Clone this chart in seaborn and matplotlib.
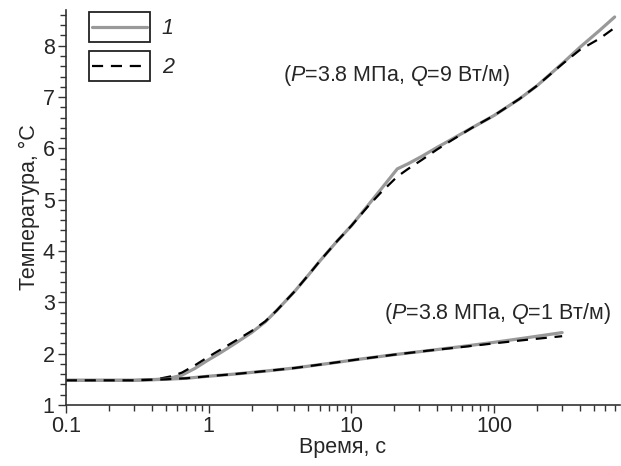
import numpy as np
import pandas as pd
import seaborn as sns
import matplotlib
matplotlib.use("Agg")
import matplotlib.pyplot as plt
from matplotlib.ticker import AutoMinorLocator, FixedLocator, LogLocator, NullFormatter
from matplotlib.patches import Rectangle

# curve for Q=9 W/m
t_q9 = [0.1, 0.3, 0.45, 0.55, 0.65, 0.8, 1.0, 1.2, 1.5, 2.0, 2.5, 3.0, 4.0, 5.0, 6.0, 8.0,
        10, 13, 16, 21, 25, 31, 40, 50, 70, 100, 150, 200, 300, 400, 550, 700]
temp_q9_1 = [1.48, 1.48, 1.50, 1.53, 1.58, 1.71, 1.88, 2.01, 2.18, 2.41, 2.62, 2.84, 3.21, 3.53, 3.80, 4.20,
             4.49, 4.88, 5.19, 5.60, 5.70, 5.84, 6.02, 6.17, 6.40, 6.64, 6.96, 7.22, 7.65, 7.97, 8.30, 8.56]
temp_q9_2 = [1.48, 1.48, 1.51, 1.56, 1.63, 1.77, 1.94, 2.07, 2.23, 2.44, 2.63, 2.84, 3.21, 3.53, 3.80, 4.20,
             4.49, 4.86, 5.13, 5.45, 5.60, 5.77, 5.98, 6.15, 6.40, 6.64, 6.96, 7.22, 7.64, 7.92, 8.14, 8.35]

# curve for Q=1 W/m
t_q1 = [0.1, 0.3, 0.5, 0.7, 1.0, 1.5, 2.5, 4.0, 7.0, 12, 20, 35, 60, 100, 170, 300]
temp_q1_1 = [1.48, 1.48, 1.50, 1.52, 1.56, 1.60, 1.66, 1.72, 1.81, 1.90, 1.98, 2.06, 2.14, 2.22, 2.31, 2.41]
temp_q1_2 = [1.48, 1.48, 1.50, 1.52, 1.56, 1.60, 1.66, 1.72, 1.81, 1.90, 1.98, 2.06, 2.13, 2.20, 2.27, 2.34]

labels = ["1", "2"]

sns.set_style("ticks")
plt.rcParams['font.family'] = ['Liberation Sans', 'DejaVu Sans']
plt.rcParams['mathtext.fontset'] = 'custom'
plt.rcParams['mathtext.it'] = 'Liberation Sans:italic'
plt.rcParams['mathtext.rm'] = 'Liberation Sans'

FS = 15.5

fig = plt.figure(figsize=(6.21, 4.66), dpi=100)
ax = fig.add_axes([0.106, 0.131, 0.892, 0.848])

df1 = pd.DataFrame({"t": t_q9, "T": temp_q9_1})
df2 = pd.DataFrame({"t": t_q9, "T": temp_q9_2})
df3 = pd.DataFrame({"t": t_q1, "T": temp_q1_1})
df4 = pd.DataFrame({"t": t_q1, "T": temp_q1_2})

grey = dict(color="#999999", linewidth=2.3)
dash = dict(color="black", linewidth=1.6, dashes=(5, 3.5))

sns.lineplot(data=df1, x="t", y="T", ax=ax, label=labels[0], **grey)
sns.lineplot(data=df2, x="t", y="T", ax=ax, label=labels[1], **dash)
sns.lineplot(data=df3, x="t", y="T", ax=ax, **grey)
sns.lineplot(data=df4, x="t", y="T", ax=ax, **dash)

ax.set_xscale("log")
ax.set_xlim(0.1, 760)
ax.set_ylim(1, 8.7)
ax.xaxis.set_major_locator(FixedLocator([0.1, 1, 10, 100]))
ax.set_xticklabels(["0.1", "1", "10", "100"])
ax.xaxis.set_minor_locator(LogLocator(base=10, subs=np.arange(2, 10)))
ax.xaxis.set_minor_formatter(NullFormatter())
ax.yaxis.set_major_locator(FixedLocator([1, 2, 3, 4, 5, 6, 7, 8]))
ax.yaxis.set_minor_locator(AutoMinorLocator(5))
ax.tick_params(which="major", direction="out", length=6, width=1, labelsize=FS, color="#333333", pad=2)
ax.tick_params(which="minor", direction="out", length=4, width=1, color="#333333")
for s in ["top", "right"]:
    ax.spines[s].set_visible(False)
for s in ["left", "bottom"]:
    ax.spines[s].set_color("#333333")
    ax.spines[s].set_linewidth(1.2)

ax.set_xlabel("Время, с", fontsize=FS, labelpad=0)
ax.set_ylabel("Температура, °C", fontsize=FS, labelpad=2)

ax.text(3.3, 7.42, "($P$=3.8 МПа, $Q$=9 Вт/м)", fontsize=FS, va="center", ha="left")
ax.text(17, 2.78, "($P$=3.8 МПа, $Q$=1 Вт/м)", fontsize=FS, va="center", ha="left")

leg = ax.legend(loc="upper left", bbox_to_anchor=(0.012, 1.028), frameon=False,
                handlelength=2.55, labelspacing=0.85, handletextpad=0.7, fontsize=FS)
for txt in leg.get_texts():
    txt.set_fontstyle("italic")

fig.canvas.draw()
renderer = fig.canvas.get_renderer()
for h in leg.legend_handles:
    bb = h.get_window_extent(renderer)
    x0, x1 = bb.x0 - 3, bb.x1 + 3
    yc = (bb.y0 + bb.y1) / 2
    rect = Rectangle((x0, yc - 15), x1 - x0, 30, transform=None, fill=False,
                     edgecolor="#222222", linewidth=1.3)
    fig.patches.append(rect)

fig.savefig("out.png", dpi=100)
